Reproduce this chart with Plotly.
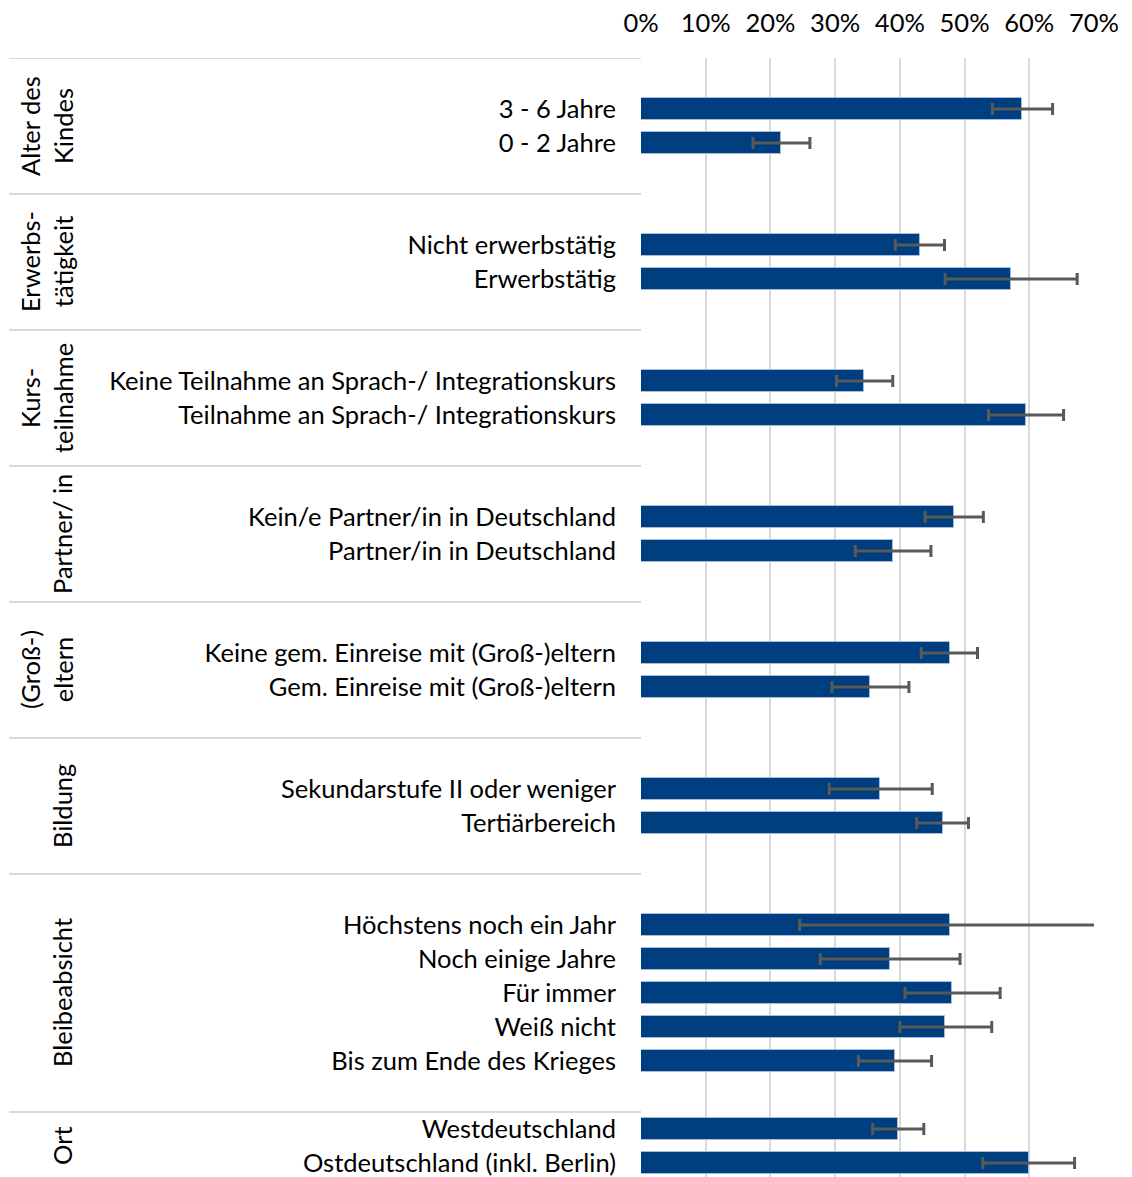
import plotly.graph_objects as go

# ---- data ----
group_names = ["Alter des<br>Kindes", "Erwerbs-<br>tätigkeit", "Kurs-<br>teilnahme", "Partner/ in",
               "(Groß-)<br>eltern", "Bildung", "Bleibeabsicht", "Ort"]

categories = [
    ["3 - 6 Jahre", "0 - 2 Jahre"],
    ["Nicht erwerbstätig", "Erwerbstätig"],
    ["Keine Teilnahme an Sprach-/ Integrationskurs", "Teilnahme an Sprach-/ Integrationskurs"],
    ["Kein/e Partner/in in Deutschland", "Partner/in in Deutschland"],
    ["Keine gem. Einreise mit (Groß-)eltern", "Gem. Einreise mit (Groß-)eltern"],
    ["Sekundarstufe II oder weniger", "Tertiärbereich"],
    ["Höchstens noch ein Jahr", "Noch einige Jahre", "Für immer", "Weiß nicht", "Bis zum Ende des Krieges"],
    ["Westdeutschland", "Ostdeutschland (inkl. Berlin)"],
]

values = [
    [58.9, 21.6],
    [43.1, 57.2],
    [34.5, 59.5],
    [48.4, 38.9],
    [47.7, 35.4],
    [37.0, 46.6],
    [47.8, 38.4, 48.1, 47.0, 39.2],
    [39.7, 59.9],
]

ci_low = [
    [54.3, 17.3],
    [39.3, 47.0],
    [30.2, 53.7],
    [43.9, 33.1],
    [43.3, 29.5],
    [29.1, 42.6],
    [24.5, 27.7, 40.8, 40.0, 33.6],
    [35.8, 52.8],
]

ci_high = [
    [63.6, 26.1],
    [46.9, 67.4],
    [38.9, 65.3],
    [52.9, 44.8],
    [52.0, 41.4],
    [45.0, 50.6],
    [75.0, 49.3, 55.5, 54.2, 44.9],
    [43.7, 67.0],
]

x_tickvals = [0, 10, 20, 30, 40, 50, 60, 70]
x_ticktext = ["0%", "10%", "20%", "30%", "40%", "50%", "60%", "70%"]

# ---- layout constants (page pixels; page body has an 8px margin) ----
OFF = 8
W, H = 1132, 1177
PAGE_H = 1177
PLOT_L, PLOT_R, PLOT_T = 641 - OFF, 1094 - OFF, 58 - OFF
PLOT_B = PAGE_H - OFF  # bottom of plot in figure coordinates
SLOT_PX = 34
group_pad = [1, 1, 1, 1, 1, 1, 1, 0]
FONT = "Lato"
FS = 25.5
BAR_COLOR = "#003F7F"
GRID = "#D9D9D9"

# compute slot positions
ys, labels, vals, lo, hi = [], [], [], [], []
boundaries = [0]
group_centers = []
pos = 0
for g, cats in enumerate(categories):
    start = pos
    pos += group_pad[g]
    for i, c in enumerate(cats):
        ys.append(pos + 0.5)
        labels.append(c)
        vals.append(values[g][i])
        lo.append(values[g][i] - ci_low[g][i])
        hi.append(ci_high[g][i] - values[g][i])
        pos += 1
    pos += group_pad[g]
    boundaries.append(pos)
    group_centers.append((start + pos) / 2)

visible_slots = (PLOT_B - PLOT_T) / SLOT_PX

fig = go.Figure()
fig.add_trace(go.Bar(
    x=vals, y=ys, orientation="h", width=0.66,
    marker=dict(color=BAR_COLOR, line=dict(color="#A7BCDA", width=1)),
    error_x=dict(type="data", symmetric=False, array=hi, arrayminus=lo,
                 color="#595959", thickness=3, width=6),
    showlegend=False, hoverinfo="skip",
))

plot_w = PLOT_R - PLOT_L


def px_to_paper(page_px):
    return (page_px - OFF - PLOT_L) / plot_w


shapes = []
for b in boundaries[:-1]:
    shapes.append(dict(type="line", xref="paper", yref="y",
                       x0=px_to_paper(9), x1=0, y0=b, y1=b,
                       line=dict(color=GRID, width=2), layer="below"))

annotations = []
for g, name in enumerate(group_names):
    two_line = "<br>" in name
    annotations.append(dict(
        text=name, xref="paper", yref="y",
        x=px_to_paper(46 if two_line else 62), y=group_centers[g],
        xanchor="center", yanchor="middle", textangle=-90, showarrow=False,
        font=dict(family=FONT, size=FS, color="#000000"), align="center"))

fig.update_layout(
    width=W, height=H,
    margin=dict(l=PLOT_L, r=W - PLOT_R, t=PLOT_T, b=H - PLOT_B, pad=0, autoexpand=False),
    paper_bgcolor="white", plot_bgcolor="white",
    font=dict(family=FONT, size=FS, color="#000000"),
    bargap=0,
    xaxis=dict(side="top", range=[0, 70], tickvals=x_tickvals, ticktext=x_ticktext,
               showgrid=True, gridcolor=GRID, gridwidth=2, zeroline=False,
               showline=False, ticks="", ticklabelstandoff=20, automargin=False,
               tickfont=dict(family=FONT, size=FS, color="#000000")),
    yaxis=dict(range=[visible_slots, 0], tickvals=ys, ticktext=labels,
               showgrid=False, zeroline=False, showline=False, ticks="",
               ticklabelstandoff=24, automargin=False,
               tickfont=dict(family=FONT, size=FS, color="#000000")),
    shapes=shapes, annotations=annotations,
)

fig.write_html("out.html")
